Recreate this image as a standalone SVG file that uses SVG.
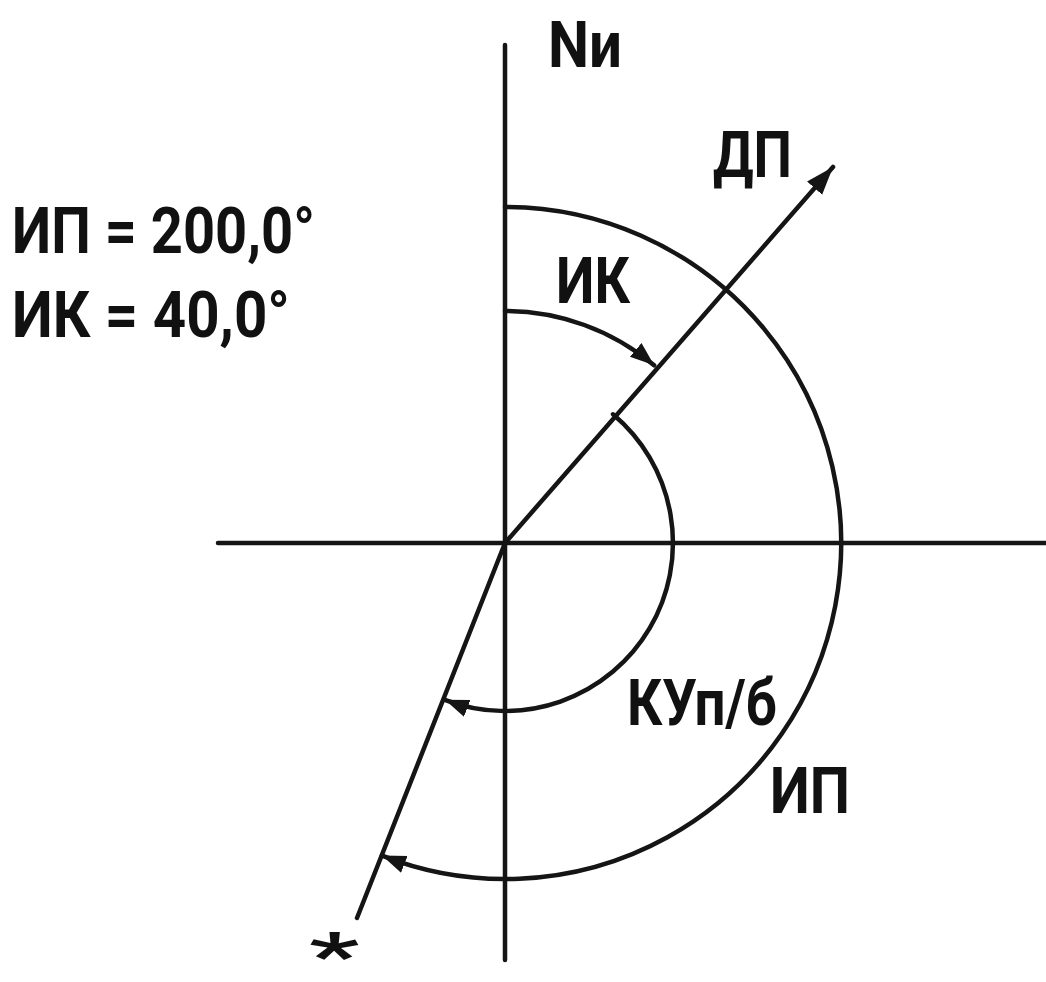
<svg xmlns="http://www.w3.org/2000/svg" width="1046" height="982" viewBox="0 0 1046 982">
<style>
.ln{stroke:#151515;stroke-width:4.5;fill:none;stroke-linecap:round}
.t{font-family:Roboto,"Liberation Sans",sans-serif;font-weight:bold;fill:#111;font-size:64px}
</style>
<defs>
<marker id="ah" markerUnits="userSpaceOnUse" markerWidth="32" markerHeight="22" refX="28" refY="10" orient="auto" viewBox="0 0 32 22">
<path d="M0,0 L28,10 L0,20 z" fill="#151515"/>
</marker>
<marker id="ahs" markerUnits="userSpaceOnUse" markerWidth="28" markerHeight="20" refX="24" refY="9" orient="auto" viewBox="0 0 28 20">
<path d="M0,0 L24,9 L0,18 z" fill="#151515"/>
</marker>
</defs>
<rect width="1046" height="982" fill="#fff"/>
<g id="connectors">
<line class="ln" x1="505" y1="45" x2="505" y2="960"/>
<line class="ln" x1="218" y1="543" x2="1046" y2="543"/>
<line class="ln" x1="505" y1="543" x2="833" y2="167" marker-end="url(#ah)"/>
<line class="ln" x1="505" y1="543" x2="357" y2="918"/>
<path class="ln" d="M505,207 A336,336 0 1 1 382,855.6" marker-end="url(#ahs)"/>
<path class="ln" d="M505,311 A232,232 0 0 1 654.1,365.3" marker-end="url(#ahs)"/>
<path class="ln" d="M613,414.3 A168,168 0 0 1 444.8,699.8" marker-end="url(#ahs)"/>
</g>
<g id="label-ip-value"><text class="t" x="12" y="253" textLength="303" lengthAdjust="spacingAndGlyphs">ИП = 200,0°</text></g>
<g id="label-ik-value"><text class="t" x="12" y="337" textLength="278" lengthAdjust="spacingAndGlyphs">ИК = 40,0°</text></g>
<g id="label-n"><text class="t" x="548" y="67" textLength="74" lengthAdjust="spacingAndGlyphs">Nи</text></g>
<g id="label-dp"><text class="t" x="713" y="177" textLength="79" lengthAdjust="spacingAndGlyphs">ДП</text></g>
<g id="label-ik"><text class="t" x="556" y="303" textLength="74" lengthAdjust="spacingAndGlyphs">ИК</text></g>
<g id="label-ku"><text class="t" x="627" y="725" textLength="150" lengthAdjust="spacingAndGlyphs">КУп/б</text></g>
<g id="label-ip"><text class="t" x="770" y="813" textLength="80" lengthAdjust="spacingAndGlyphs">ИП</text></g>
<g id="star"><text class="t" x="309" y="978" font-size="165" textLength="50" lengthAdjust="spacingAndGlyphs">*</text></g>
</svg>
